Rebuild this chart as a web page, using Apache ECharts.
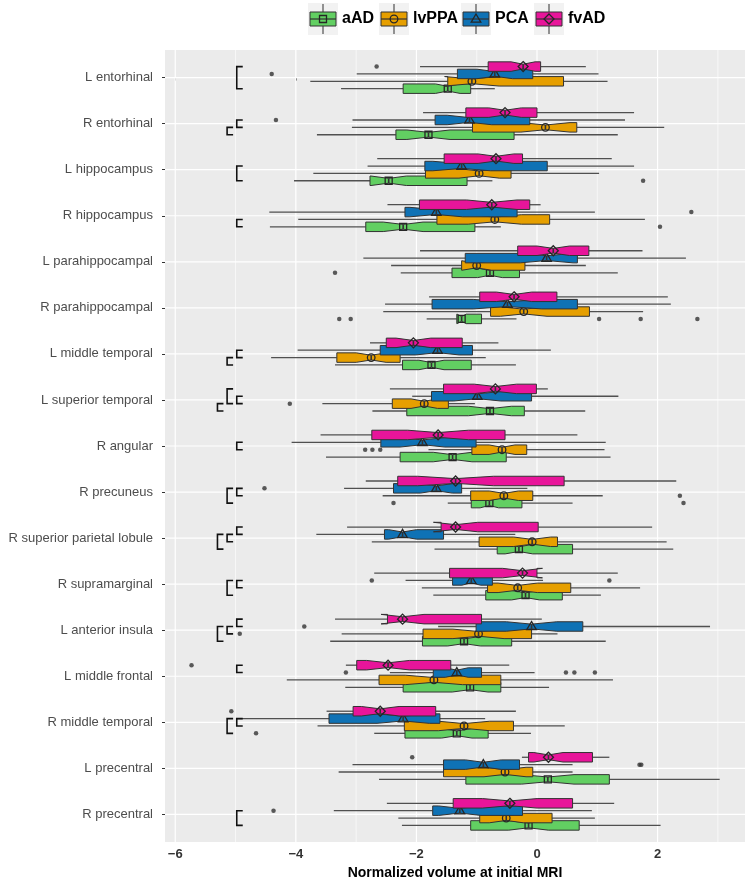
<!DOCTYPE html>
<html>
<head>
<meta charset="utf-8">
<script src="https://cdn.jsdelivr.net/npm/echarts@6/dist/echarts.min.js"></script>
<style>
  html, body { margin: 0; background: #fff; }
  #main { width: 750px; height: 880px; }
</style>
</head>
<body>
<div id="main"></div>
<script>
// regions, top to bottom
const regions = [
  'L entorhinal', 'R entorhinal', 'L hippocampus', 'R hippocampus',
  'L parahippocampal', 'R parahippocampal', 'L middle temporal', 'L superior temporal',
  'R angular', 'R precuneus', 'R superior parietal lobule', 'R supramarginal',
  'L anterior insula', 'L middle frontal', 'R middle temporal', 'L precentral', 'R precentral'
]
const groups = ['aAD', 'lvPPA', 'PCA', 'fvAD']
const groupColors = ['#62cf62', '#e69f00', '#0f72b5', '#e8159a']
const groupShapes = ['square', 'circle', 'triangle', 'diamond']
// group sizes, only used for the notch width
const groupN = [75, 45, 45, 48]

// [lower whisker, Q1, median, Q3, upper whisker] per region
const aAD = [
  [-3.25, -2.22, -1.48, -1.10, -0.70], [-3.65, -2.34, -1.80, -0.38, 1.34],
  [-4.03, -2.77, -2.46, -1.16, -0.74], [-4.43, -2.84, -2.22, -1.03, -0.60],
  [-2.26, -1.41, -0.78, -0.29, 1.34], [-1.83, -1.33, -1.25, -0.92, -0.34],
  [-3.35, -2.23, -1.75, -1.09, -0.35], [-2.73, -2.16, -0.78, -0.21, 0.80],
  [-3.50, -2.27, -1.40, -0.51, 1.22], [-1.48, -1.09, -0.79, -0.25, 0.59],
  [-1.70, -0.66, -0.30, 0.59, 2.26], [-1.72, -0.85, -0.19, 0.42, 1.06],
  [-3.43, -1.90, -1.21, -0.42, 1.14], [-3.18, -2.22, -1.11, -0.60, 0.20],
  [-2.70, -2.19, -1.33, -0.81, -0.10], [-2.62, -1.18, 0.18, 1.20, 3.03],
  [-2.24, -1.10, -0.14, 0.70, 2.05]
]
const lvPPA = [
  [-3.76, -1.48, -1.08, 0.44, 1.17], [-3.07, -1.07, 0.14, 0.66, 2.11],
  [-3.71, -1.85, -0.96, -0.43, 1.03], [-3.96, -1.66, -0.70, 0.21, 1.79],
  [-2.42, -1.25, -1.00, -0.20, 0.81], [-2.55, -0.77, -0.22, 0.87, 1.76],
  [-4.41, -3.32, -2.75, -2.27, -0.85], [-3.56, -2.40, -1.87, -1.47, -1.03],
  [-1.80, -1.08, -0.58, -0.17, 1.12], [-2.56, -1.10, -0.55, -0.07, 1.09],
  [-2.74, -0.96, -0.08, 0.34, 2.15], [-1.91, -0.82, -0.32, 0.56, 1.71],
  [-3.24, -1.89, -0.97, -0.09, 0.34], [-4.15, -2.62, -1.71, -0.60, 1.26],
  [-3.64, -2.20, -1.21, -0.39, 0.46], [-3.29, -1.55, -0.53, -0.07, 0.59],
  [-2.30, -0.95, -0.51, 0.25, 0.96]
]
const PCA = [
  [-2.99, -1.32, -0.70, -0.07, 1.02], [-3.06, -1.69, -1.12, -0.12, 1.46],
  [-2.81, -1.86, -1.25, 0.17, 1.61], [-4.44, -2.19, -1.67, -0.33, 0.96],
  [-2.88, -1.19, 0.16, 0.67, 2.47], [-2.52, -1.74, -0.49, 0.67, 2.22],
  [-3.97, -2.60, -1.65, -1.07, 0.23], [-2.07, -1.75, -0.99, -0.09, 1.35],
  [-4.07, -2.59, -1.90, -1.01, 1.14], [-3.20, -2.38, -1.67, -1.25, -0.16],
  [-3.66, -2.53, -2.23, -1.55, -0.36], [-2.18, -1.40, -1.09, -0.74, 0.10],
  [-1.64, -1.01, -0.09, 0.76, 2.87], [-2.44, -1.72, -1.33, -0.92, -0.04],
  [-4.98, -3.45, -2.22, -1.61, -0.86], [-3.06, -1.55, -0.89, -0.29, 0.59],
  [-3.37, -1.73, -1.28, -0.24, 0.91]
]
const fvAD = [
  [-1.94, -0.81, -0.23, 0.06, 0.81], [-1.89, -1.18, -0.53, 0.00, 1.61],
  [-2.65, -1.54, -0.68, -0.24, 1.24], [-2.48, -1.95, -0.75, -0.12, 0.06],
  [-1.94, -0.32, 0.27, 0.86, 1.75], [-1.79, -0.95, -0.38, 0.33, 2.17],
  [-2.77, -2.50, -2.05, -1.24, -0.64], [-2.44, -1.55, -0.69, -0.01, 0.18],
  [-3.59, -2.74, -1.64, -0.53, 0.67], [-2.84, -2.31, -1.35, 0.45, 2.31],
  [-3.15, -1.59, -1.35, 0.02, 1.91], [-2.70, -1.45, -0.24, 0.00, 1.34],
  [-3.35, -2.48, -2.23, -0.92, 0.08], [-3.17, -2.99, -2.47, -1.43, -0.46],
  [-3.49, -3.05, -2.60, -1.68, -0.35], [-0.25, -0.14, 0.19, 0.92, 1.20],
  [-2.49, -1.39, -0.45, 0.59, 1.28]
]
const boxStats = [aAD, lvPPA, PCA, fvAD]

// outliers: [region index, group index, value]
const outliers = [
  [0, 3, -2.66], [0, 2, -4.40], [1, 2, -4.33], [2, 0, 1.76],
  [3, 2, 2.56], [3, 0, 2.04], [4, 0, -3.35],
  [5, 0, -3.28], [5, 0, -3.09], [5, 0, 1.03], [5, 0, 1.72], [5, 0, 2.66],
  [7, 1, -4.10], [8, 1, -2.85], [8, 1, -2.73], [8, 1, -2.60],
  [9, 2, -4.52], [9, 1, 2.37], [9, 0, 2.43], [9, 0, -2.38],
  [11, 2, -2.74], [11, 2, 1.20], [12, 2, -3.86], [12, 1, -4.93],
  [13, 3, -5.73], [13, 2, -3.17], [13, 2, 0.48], [13, 2, 0.62], [13, 2, 0.96],
  [14, 3, -5.07], [14, 0, -4.66], [15, 3, -2.07], [15, 2, 1.70], [15, 2, 1.73],
  [16, 2, -4.37]
]

// significance brackets: [region index, level, group a, group b]
const brackets = [
  [0, 0, 3, 0], [1, 0, 2, 1], [1, 1, 1, 0], [2, 0, 2, 0], [3, 0, 1, 0],
  [6, 0, 2, 1], [6, 1, 1, 0], [7, 0, 2, 1], [7, 1, 3, 1], [7, 2, 1, 0],
  [8, 0, 2, 1], [9, 0, 2, 1], [9, 1, 2, 0],
  [10, 0, 3, 2], [10, 1, 2, 1], [10, 2, 2, 0],
  [11, 0, 2, 1], [11, 1, 2, 0],
  [12, 0, 3, 2], [12, 1, 2, 1], [12, 2, 2, 0],
  [13, 0, 3, 2], [14, 0, 2, 1], [14, 1, 2, 0], [16, 0, 2, 0]
]

const xBreaks = [-6, -4, -2, 0, 2]
const xMinor = [-5, -3, -1, 1, 3]

// within a region: fvAD on top, aAD at the bottom
const rowOffset = g => (1.5 - g) * 0.16
const halfH = 0.103
const bracketX = [-4.98, -5.14, -5.30]

const chart = echarts.init(document.getElementById('main'))

function drawMarker(shape, p) {
  const st = { fill: 'none', stroke: '#262626', lineWidth: 1.3 }
  const [x, y] = p
  if (shape === 'square') return { type: 'rect', shape: { x: x - 3.5, y: y - 3.5, width: 7, height: 7 }, style: st }
  if (shape === 'circle') return { type: 'circle', shape: { cx: x, cy: y, r: 3.8 }, style: st }
  if (shape === 'triangle') return { type: 'polygon', shape: { points: [[x, y - 5], [x + 4.8, y + 3.2], [x - 4.8, y + 3.2]] }, style: st }
  return { type: 'polygon', shape: { points: [[x, y - 5], [x + 5, y], [x, y + 5], [x - 5, y]] }, style: st }
}

const boxSeries = groups.map((name, g) => ({
  type: 'custom',
  name,
  z: 3,
  data: boxStats[g].map((s, r) => [r, ...s]),
  renderItem: (params, api) => {
    const r = api.value(0)
    const lo = api.value(1), q1 = api.value(2), med = api.value(3), q3 = api.value(4), hi = api.value(5)
    const yc = r + rowOffset(g)
    const P = (x, y) => api.coord([x, y])
    const notch = 1.58 * (q3 - q1) / Math.sqrt(groupN[g])
    const nlo = med - notch, nhi = med + notch
    const top = yc - halfH, bot = yc + halfH, wt = yc - halfH / 2, wb = yc + halfH / 2
    const whisk = { stroke: '#505050', lineWidth: 1.3 }
    return {
      type: 'group',
      children: [
        { type: 'line', shape: { x1: P(lo, yc)[0], y1: P(lo, yc)[1], x2: P(q1, yc)[0], y2: P(q1, yc)[1] }, style: whisk },
        { type: 'line', shape: { x1: P(q3, yc)[0], y1: P(q3, yc)[1], x2: P(hi, yc)[0], y2: P(hi, yc)[1] }, style: whisk },
        {
          type: 'polygon',
          shape: { points: [P(q1, top), P(nlo, top), P(med, wt), P(nhi, top), P(q3, top), P(q3, bot), P(nhi, bot), P(med, wb), P(nlo, bot), P(q1, bot)] },
          style: { fill: groupColors[g], stroke: '#333', lineWidth: 1 }
        },
        { type: 'line', shape: { x1: P(med, wt)[0], y1: P(med, wt)[1], x2: P(med, wb)[0], y2: P(med, wb)[1] }, style: { stroke: '#333', lineWidth: 1.6 } },
        drawMarker(groupShapes[g], P(med, yc))
      ]
    }
  }
}))

const gridData = [
  ...xBreaks.map(v => [0, v, 1]),
  ...xMinor.map(v => [0, v, 0]),
  ...regions.map((_, i) => [1, i, 1])
]

const option = {
  animation: false,
  textStyle: { fontFamily: 'Liberation Sans, Arial, sans-serif' },
  grid: {
    left: 165, right: 5, top: 50, bottom: 38, outerBoundsMode: 'none',
    show: true, backgroundColor: '#ebebeb', borderWidth: 0
  },
  xAxis: {
    type: 'value', min: -6.17, max: 3.45,
    name: 'Normalized volume at initial MRI', nameLocation: 'middle', nameGap: 22,
    nameTextStyle: { fontSize: 14, fontWeight: 'bold', color: '#000' },
    axisLine: { show: false },
    axisTick: { show: true, length: 3, lineStyle: { color: '#333' }, customValues: xBreaks },
    axisLabel: {
      customValues: xBreaks, margin: 6, fontSize: 13, fontWeight: 'bold', color: '#333',
      formatter: v => (v < 0 ? '\u2212' : '') + Math.abs(v)
    },
    splitLine: { show: false }
  },
  yAxis: {
    type: 'value', inverse: true, min: -0.6, max: 16.6,
    axisLine: { show: false, onZero: false },
    axisTick: { show: true, length: 3, lineStyle: { color: '#333' }, customValues: regions.map((_, i) => i) },
    axisLabel: {
      customValues: regions.map((_, i) => i), margin: 12, fontSize: 13, color: '#4d4d4d',
      formatter: v => regions[Math.round(v)]
    },
    splitLine: { show: false }
  },
  graphic: [],
  series: [
    {
      type: 'custom', z: 1, silent: true,
      data: gridData,
      renderItem: (params, api) => {
        const cs = params.coordSys
        const w = api.value(2) ? 1.2 : 0.6
        if (api.value(0) === 0) {
          const x = api.coord([api.value(1), 0])[0]
          return { type: 'line', shape: { x1: x, y1: cs.y, x2: x, y2: cs.y + cs.height }, style: { stroke: '#fff', lineWidth: w } }
        }
        const y = api.coord([0, api.value(1)])[1]
        return { type: 'line', shape: { x1: cs.x, y1: y, x2: cs.x + cs.width, y2: y }, style: { stroke: '#fff', lineWidth: w } }
      }
    },
    ...boxSeries,
    {
      type: 'scatter', z: 4, symbol: 'circle', symbolSize: 4.5,
      itemStyle: { color: '#333' },
      data: outliers.map(([r, g, v]) => [v, r + rowOffset(g)])
    },
    {
      type: 'custom', z: 4,
      data: brackets,
      renderItem: (params, api) => {
        const r = api.value(0), lvl = api.value(1)
        const ya = r + rowOffset(api.value(2)), yb = r + rowOffset(api.value(3))
        const a = api.coord([bracketX[lvl], ya]), b = api.coord([bracketX[lvl], yb])
        return {
          type: 'polyline',
          shape: { points: [[a[0] + 6, a[1]], a, b, [b[0] + 6, b[1]]] },
          style: { stroke: '#111', lineWidth: 1.6, fill: 'none' }
        }
      }
    }
  ]
}

// legend drawn as graphic elements (boxplot glyph keys)
const legendX = [308, 379, 461, 534]
groups.forEach((name, g) => {
  const kx = legendX[g]
  const cx = kx + 15, cy = 19
  option.graphic.push(
    { type: 'rect', shape: { x: kx, y: 3, width: 30, height: 32 }, style: { fill: '#f2f2f2' } },
    { type: 'line', shape: { x1: cx, y1: 4, x2: cx, y2: 34 }, style: { stroke: '#505050', lineWidth: 1.2 } },
    { type: 'rect', shape: { x: kx + 2, y: 12, width: 26, height: 14 }, style: { fill: groupColors[g], stroke: '#333', lineWidth: 1 } },
    { type: 'line', shape: { x1: kx + 2, y1: cy, x2: kx + 28, y2: cy }, style: { stroke: '#333', lineWidth: 1.2 } },
    drawMarker(groupShapes[g], [cx, cy]),
    { type: 'text', x: kx + 34, y: cy, style: { text: name, font: 'bold 16px Liberation Sans, Arial, sans-serif', fill: '#000', verticalAlign: 'middle' } }
  )
})

chart.setOption(option)
window.addEventListener('resize', () => chart.resize())
</script>
</body>
</html>
